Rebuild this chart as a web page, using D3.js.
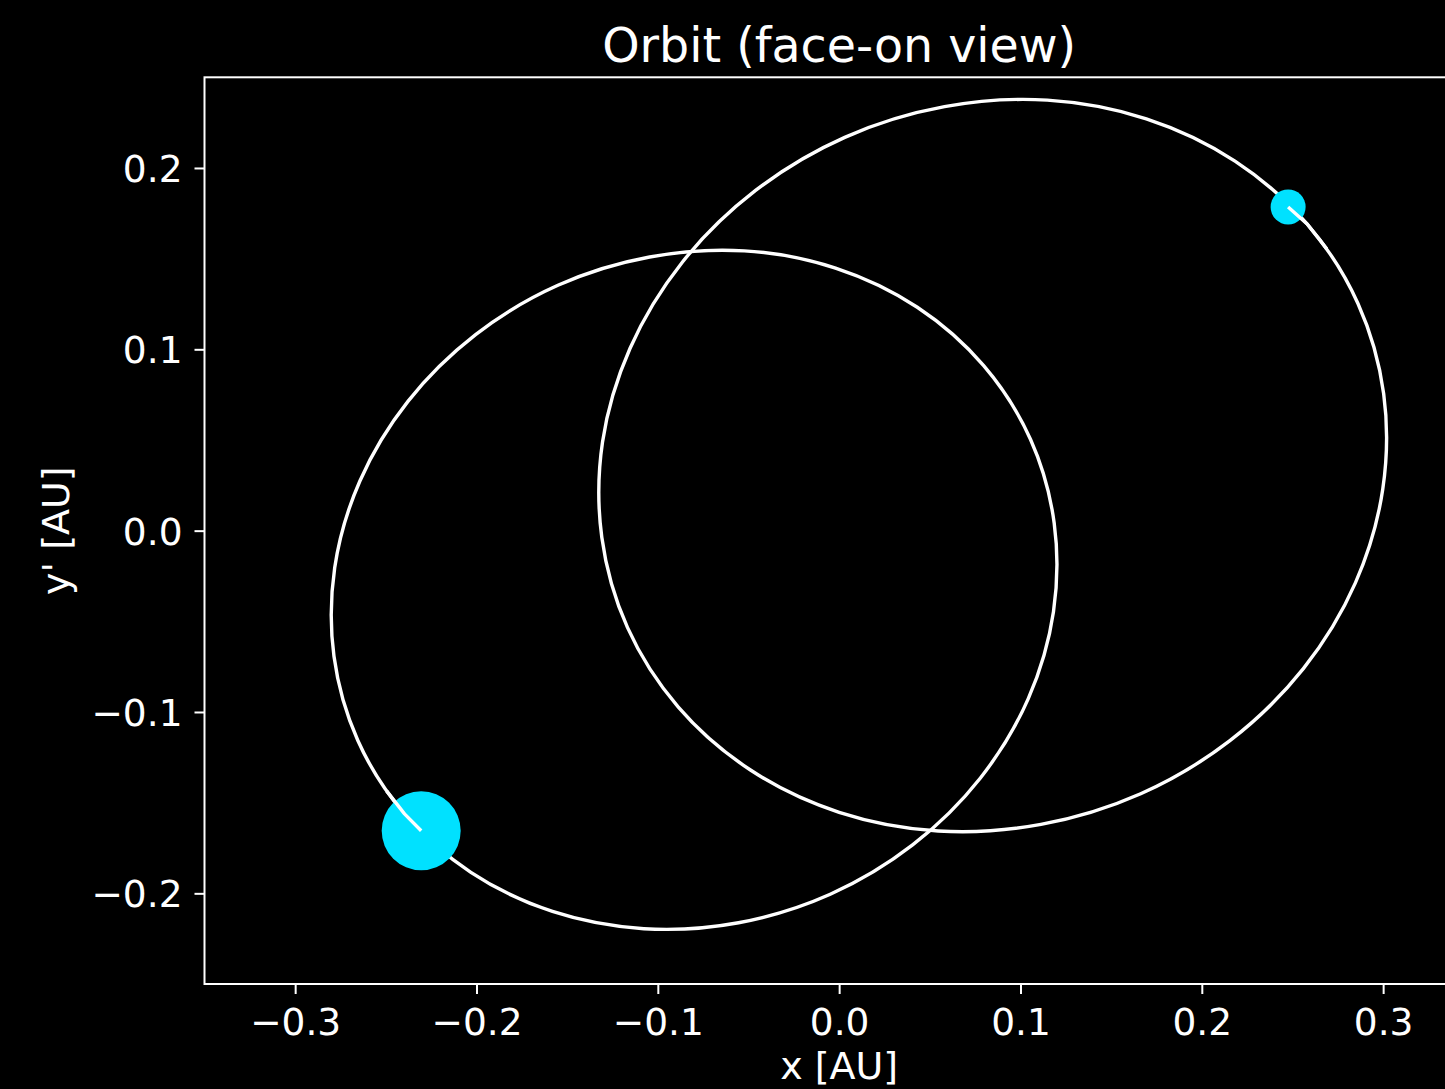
<!DOCTYPE html>
<html>
<head>
<meta charset="utf-8">
<script src="https://cdn.jsdelivr.net/npm/d3@7/dist/d3.min.js"></script>
<style>
  html, body { margin: 0; padding: 0; background: #000; }
  svg { display: block; }
  text { font-family: "DejaVu Sans", sans-serif; fill: #ffffff; }
</style>
</head>
<body>
<svg id="chart" width="1445" height="1089"></svg>
<script>
// ---------------- data ----------------
const title = "Orbit (face-on view)";
const xLabel = "x [AU]";
const yLabel = "y' [AU]";
const xDomain = [-0.35, 0.35];
const yDomain = [-0.25, 0.25];
const xTicks = [-0.3, -0.2, -0.1, 0.0, 0.1, 0.2, 0.3];
const yTicks = [-0.2, -0.1, 0.0, 0.1, 0.2];

// orbit of star A (left ellipse), traced points [x, y] in AU
const orbitA = [
  [0.1055, 0.0504], [0.0797, 0.0910], [0.0431, 0.1232], [-0.0020, 0.1448],
  [-0.0523, 0.1543], [-0.1045, 0.1509], [-0.1551, 0.1353], [-0.2005, 0.1081],
  [-0.2378, 0.0713], [-0.2643, 0.0274], [-0.2782, -0.0205], [-0.2786, -0.0693],
  [-0.2655, -0.1156], [-0.2397, -0.1562], [-0.2031, -0.1884], [-0.1581, -0.2100],
  [-0.1077, -0.2195], [-0.0555, -0.2162], [-0.0049, -0.2005], [0.0405, -0.1733],
  [0.0778, -0.1365], [0.1043, -0.0926], [0.1182, -0.0447], [0.1186, 0.0041]
];
// orbit of star B (right ellipse), traced points [x, y] in AU
const orbitB = [
  [-0.1167, -0.0535], [-0.0887, -0.0973], [-0.0489, -0.1320], [0.0000, -0.1553],
  [0.0546, -0.1656], [0.1113, -0.1620], [0.1663, -0.1451], [0.2155, -0.1158],
  [0.2560, -0.0761], [0.2847, -0.0288], [0.2998, 0.0229], [0.3003, 0.0755],
  [0.2861, 0.1253], [0.2581, 0.1691], [0.2183, 0.2038], [0.1694, 0.2271],
  [0.1148, 0.2374], [0.0581, 0.2338], [0.0031, 0.2169], [-0.0461, 0.1876],
  [-0.0866, 0.1479], [-0.1153, 0.1006], [-0.1305, 0.0489], [-0.1309, -0.0036]
];
// current star positions
const starNames = ["A", "B"];
const starX = [-0.2305, 0.2476];
const starY = [-0.1655, 0.1785];
// recent trail (points just before each current position)
const trailA = [[-0.2496, -0.1435], [-0.2397, -0.1562]];
const trailB = [[0.2689, 0.1554], [0.2581, 0.1691]];

// ---------------- layout ----------------
const svg = d3.select("#chart");
const m = { left: 204.5, top: 77.3, right: 1473.8, bottom: 984 };
const x = d3.scaleLinear().domain(xDomain).range([m.left, m.right]);
const y = d3.scaleLinear().domain(yDomain).range([m.bottom, m.top]);

svg.append("rect").attr("width", 1445).attr("height", 1089).attr("fill", "#000");

svg.append("defs").append("clipPath").attr("id", "plotclip")
  .append("rect")
  .attr("x", m.left).attr("y", m.top)
  .attr("width", m.right - m.left).attr("height", m.bottom - m.top);

const plot = svg.append("g").attr("clip-path", "url(#plotclip)");

const closedLine = d3.line().x(d => x(d[0])).y(d => y(d[1])).curve(d3.curveCatmullRomClosed.alpha(0.5));
const openLine = d3.line().x(d => x(d[0])).y(d => y(d[1])).curve(d3.curveLinear);

const orbitStyle = sel => sel.attr("fill", "none").attr("stroke", "#ffffff")
  .attr("stroke-width", 3.4).attr("stroke-linejoin", "round").attr("stroke-linecap", "butt");

plot.append("path").datum(orbitA).attr("d", closedLine).call(orbitStyle);
plot.append("path").datum(orbitB).attr("d", closedLine).call(orbitStyle);

const starR = [39.5, 17.5];
plot.selectAll("circle.star").data(starNames).join("circle")
  .attr("class", "star")
  .attr("cx", (d, i) => x(starX[i]))
  .attr("cy", (d, i) => y(starY[i]))
  .attr("r", (d, i) => starR[i])
  .attr("fill", "#00e1ff");

// trails drawn over the stars
plot.append("path").datum(trailA.concat([[starX[0], starY[0]]])).attr("d", openLine).call(orbitStyle);
plot.append("path").datum(trailB.concat([[starX[1], starY[1]]])).attr("d", openLine).call(orbitStyle);

// ---------------- axes ----------------
const fmt = d => d3.format(".1f")(d).replace("-", "\u2212");
const axisColor = "#ffffff";
const tickLen = 10;

const xAxis = svg.append("g").attr("transform", `translate(0,${m.bottom})`)
  .call(d3.axisBottom(x).tickValues(xTicks).tickFormat(fmt).tickSize(tickLen).tickPadding(6));
const yAxis = svg.append("g").attr("transform", `translate(${m.left},0)`)
  .call(d3.axisLeft(y).tickValues(yTicks).tickFormat(fmt).tickSize(tickLen).tickPadding(12));

[xAxis, yAxis].forEach(g => {
  g.select(".domain").remove();
  g.selectAll(".tick line").attr("stroke", axisColor).attr("stroke-width", 2);
  g.selectAll(".tick text").attr("fill", "#ffffff").style("font-size", "37.5px")
    .style("font-family", "'DejaVu Sans', sans-serif");
});
xAxis.selectAll(".tick text").attr("dy", "0.92em");
yAxis.selectAll(".tick text").attr("dy", "0.36em");

// spines
svg.append("rect")
  .attr("x", m.left).attr("y", m.top)
  .attr("width", m.right - m.left).attr("height", m.bottom - m.top)
  .attr("fill", "none").attr("stroke", axisColor).attr("stroke-width", 2);

// title & labels
svg.append("text").attr("x", (m.left + m.right) / 2).attr("y", 62)
  .attr("text-anchor", "middle").style("font-size", "47.5px").text(title);
svg.append("text").attr("x", (m.left + m.right) / 2).attr("y", 1079)
  .attr("text-anchor", "middle").style("font-size", "38px").text(xLabel);
svg.append("text").attr("transform", `translate(69,${(m.top + m.bottom) / 2}) rotate(-90)`)
  .attr("text-anchor", "middle").style("font-size", "38px").text(yLabel);
</script>
</body>
</html>
